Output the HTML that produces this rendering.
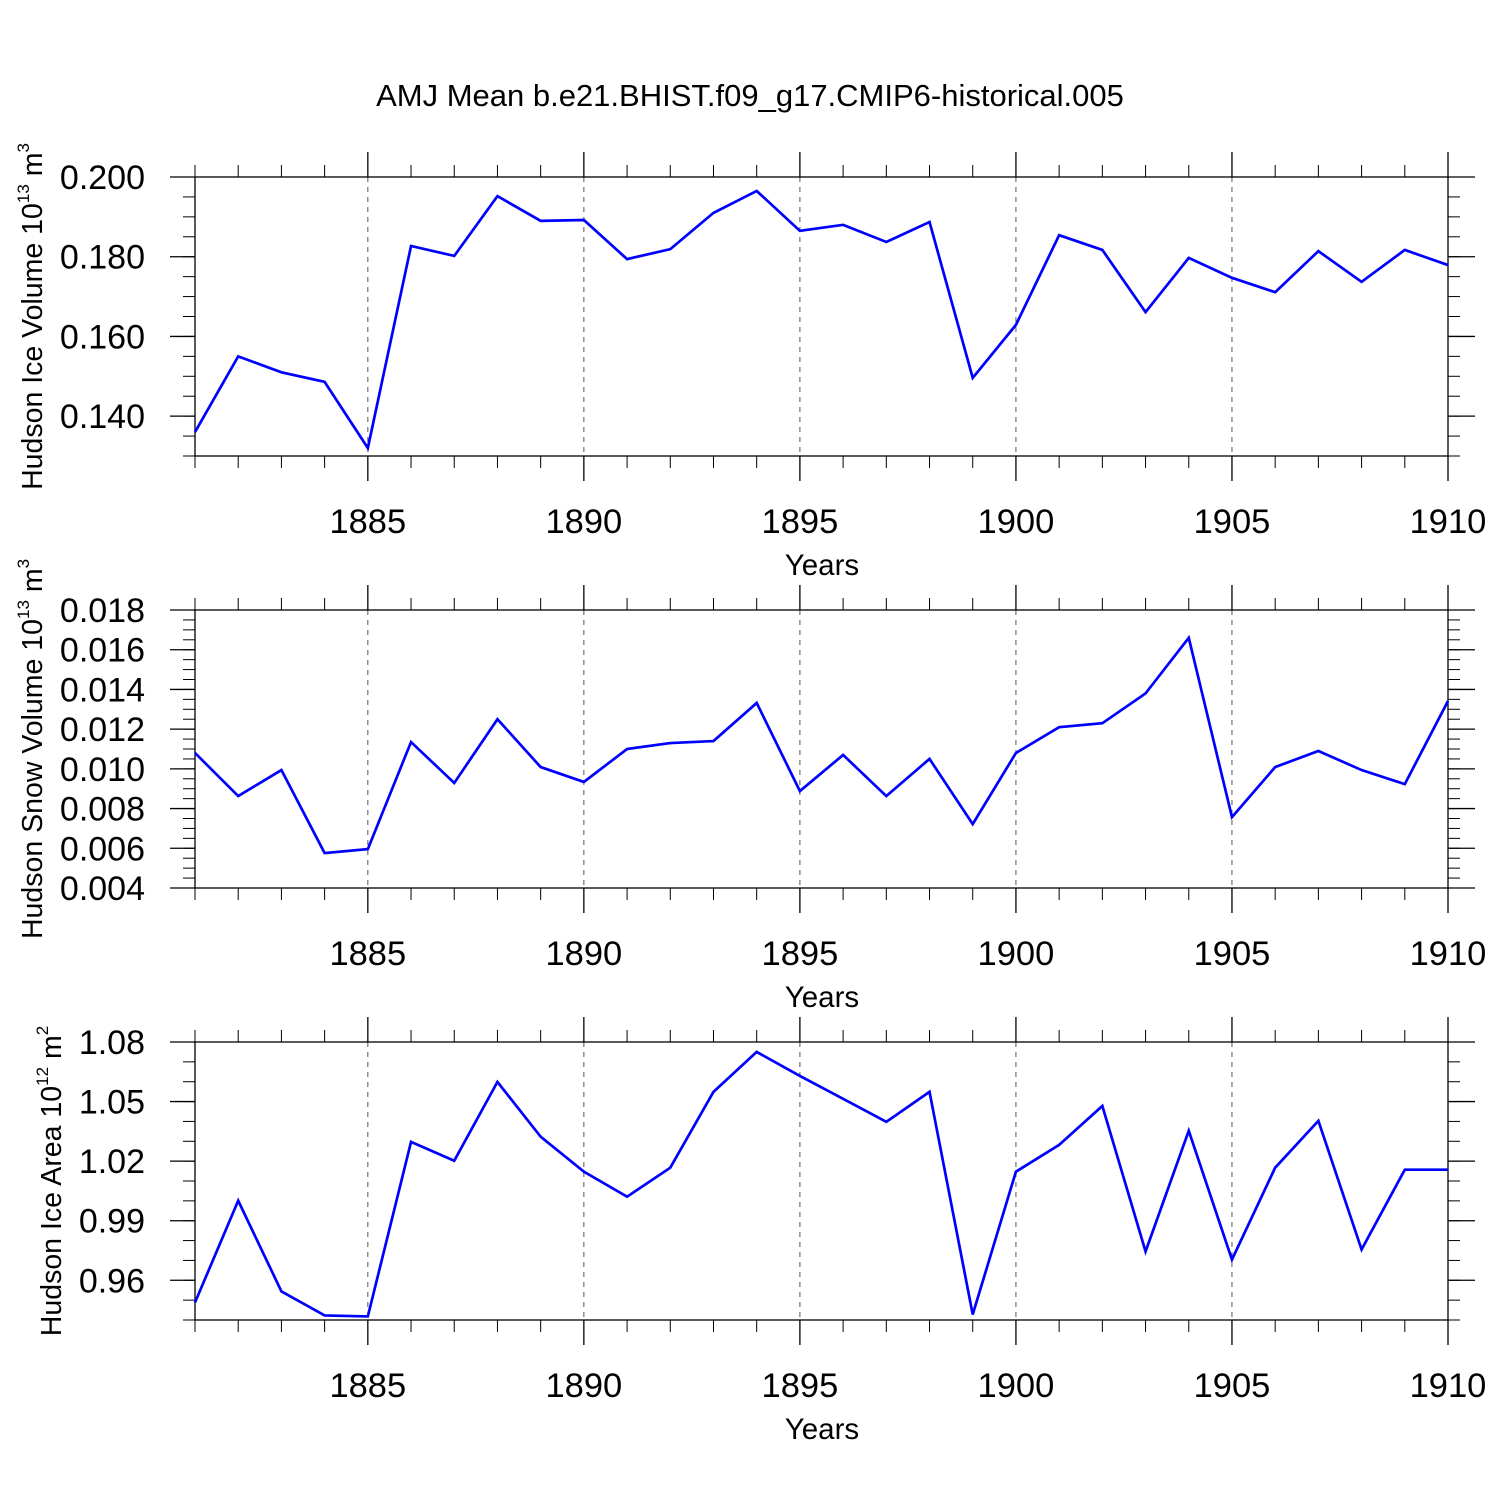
<!DOCTYPE html>
<html><head><meta charset="utf-8"><style>
html,body{margin:0;padding:0;background:#fff;}
svg text{font-family:"Liberation Sans",sans-serif;fill:#000;}
</style></head><body>
<svg id="chart" width="1500" height="1500" viewBox="0 0 1500 1500" xmlns="http://www.w3.org/2000/svg">
<rect width="1500" height="1500" fill="#fff"/>
<text x="750" y="106" font-size="31" text-anchor="middle">AMJ Mean b.e21.BHIST.f09_g17.CMIP6-historical.005</text>
</svg>
<script>
const years = [1881,1882,1883,1884,1885,1886,1887,1888,1889,1890,1891,1892,1893,1894,1895,1896,1897,1898,1899,1900,1901,1902,1903,1904,1905,1906,1907,1908,1909,1910];
const iceVolume = [0.136,0.155,0.151,0.1486,0.132,0.1827,0.1802,0.1952,0.189,0.1892,0.1794,0.1819,0.191,0.1965,0.1865,0.188,0.1837,0.1887,0.1496,0.1629,0.1854,0.1817,0.1661,0.1797,0.1747,0.1711,0.1814,0.1737,0.1817,0.1779];
const snowVolume = [0.0108,0.00863,0.00994,0.00576,0.00596,0.01135,0.00929,0.0125,0.01009,0.00934,0.011,0.0113,0.0114,0.01332,0.00888,0.0107,0.00863,0.0105,0.00722,0.0108,0.0121,0.0123,0.0138,0.0166,0.00757,0.01009,0.0109,0.00994,0.00923,0.01342];
const iceArea = [0.9488,1.0001,0.9544,0.9423,0.9418,1.0297,1.0202,1.0599,1.0323,1.0147,1.0021,1.0167,1.0549,1.075,1.0629,1.0514,1.0398,1.0549,0.9428,1.0147,1.0282,1.0478,0.9745,1.0353,0.9704,1.0167,1.0403,0.9755,1.0157,1.0157];
const xTickLabels = ["1885","1890","1895","1900","1905","1910"];
const iceVolTicks = ["0.140","0.160","0.180","0.200"];
const snowTicks = ["0.004","0.006","0.008","0.010","0.012","0.014","0.016","0.018"];
const areaTicks = ["0.96","0.99","1.02","1.05","1.08"];

const NS="http://www.w3.org/2000/svg";
const svg=document.getElementById('chart');
function mk(tag,attrs,parent){const e=document.createElementNS(NS,tag);for(const k in attrs)e.setAttribute(k,attrs[k]);(parent||svg).appendChild(e);return e;}
const X0=195,X1=1448;
function xs(yr){return X0+(yr-1881)*(X1-X0)/29;}

const panels=[
 {name:'ice-volume',top:177,bot:456,min:0.130,max:0.200,data:iceVolume,ticks:iceVolTicks,minor:0.005,title:'Hudson Ice Volume 10',exp:'13',unit:' m',uexp:'3',tx:33},
 {name:'snow-volume',top:610,bot:888,min:0.004,max:0.018,data:snowVolume,ticks:snowTicks,minor:0.0005,title:'Hudson Snow Volume 10',exp:'13',unit:' m',uexp:'3',tx:33},
 {name:'ice-area',top:1042,bot:1320,min:0.94,max:1.08,data:iceArea,ticks:areaTicks,minor:0.01,title:'Hudson Ice Area 10',exp:'12',unit:' m',uexp:'2',tx:52}
];
panels.forEach(p=>{
  const g=mk('g',{});
  
  
  const ys=v=>p.bot-(v-p.min)/(p.max-p.min)*(p.bot-p.top);
  xTickLabels.forEach(t=>{const x=xs(+t);if(x<X1-1){const l=mk('line',{x1:x,x2:x,y1:p.top,y2:p.bot,stroke:'#555','stroke-width':1,'stroke-dasharray':'5,5'},g);
    
    }});
  const f=mk('rect',{x:X0,y:p.top,width:X1-X0,height:p.bot-p.top,fill:'none',stroke:'#000','stroke-width':1.3},g);
  
  
  years.forEach(yr=>{const x=xs(yr);const major=yr%5===0;const L=major?25:12;
    mk('line',{x1:x,x2:x,y1:p.top-L,y2:p.top,stroke:'#000','stroke-width':major?1.3:1},g);
    mk('line',{x1:x,x2:x,y1:p.bot,y2:p.bot+L,stroke:'#000','stroke-width':major?1.3:1},g);});
  xTickLabels.forEach(t=>{const tx=mk('text',{x:xs(+t),y:p.bot+77,'font-size':34.5,'text-anchor':'middle'},g);tx.textContent=t;
    
    });
  const xl=mk('text',{x:822,y:p.bot+119,'font-size':29.5,'text-anchor':'middle'},g);xl.textContent='Years';
  
  
  const n=Math.round((p.max-p.min)/p.minor);
  for(let i=0;i<=n;i++){const y=ys(p.min+i*p.minor);
    mk('line',{x1:X0-12,x2:X0,y1:y,y2:y,stroke:'#000','stroke-width':1},g);
    mk('line',{x1:X1,x2:X1+12,y1:y,y2:y,stroke:'#000','stroke-width':1},g);}
  p.ticks.forEach(t=>{const y=ys(+t);
    mk('line',{x1:X0-25,x2:X0,y1:y,y2:y,stroke:'#000','stroke-width':1.3},g);
    mk('line',{x1:X1,x2:X1+27,y1:y,y2:y,stroke:'#000','stroke-width':1.3},g);
    const tx=mk('text',{x:145,y:y+12,'font-size':34,'text-anchor':'end'},g);tx.textContent=t;
    
    });
  const cy=(p.top+p.bot)/2;
  const yt=mk('text',{transform:`translate(${p.tx+9},${cy}) rotate(-90)`,'font-size':28.5,'text-anchor':'middle'},g);
  
  
  const a=mk('tspan',{},yt);a.textContent=p.title;
  const b=mk('tspan',{dy:-13,'font-size':17},yt);b.textContent=p.exp;
  const c=mk('tspan',{dy:13},yt);c.textContent=p.unit;
  const d=mk('tspan',{dy:-13,'font-size':17},yt);d.textContent=p.uexp;
  const pts=years.map((yr,i)=>xs(yr)+','+ys(p.data[i])).join(' ');
  const pl=mk('polyline',{points:pts,fill:'none',stroke:'#0000ff','stroke-width':2.7,'stroke-linejoin':'miter'},g);
  
  
});
</script>
</body></html>
